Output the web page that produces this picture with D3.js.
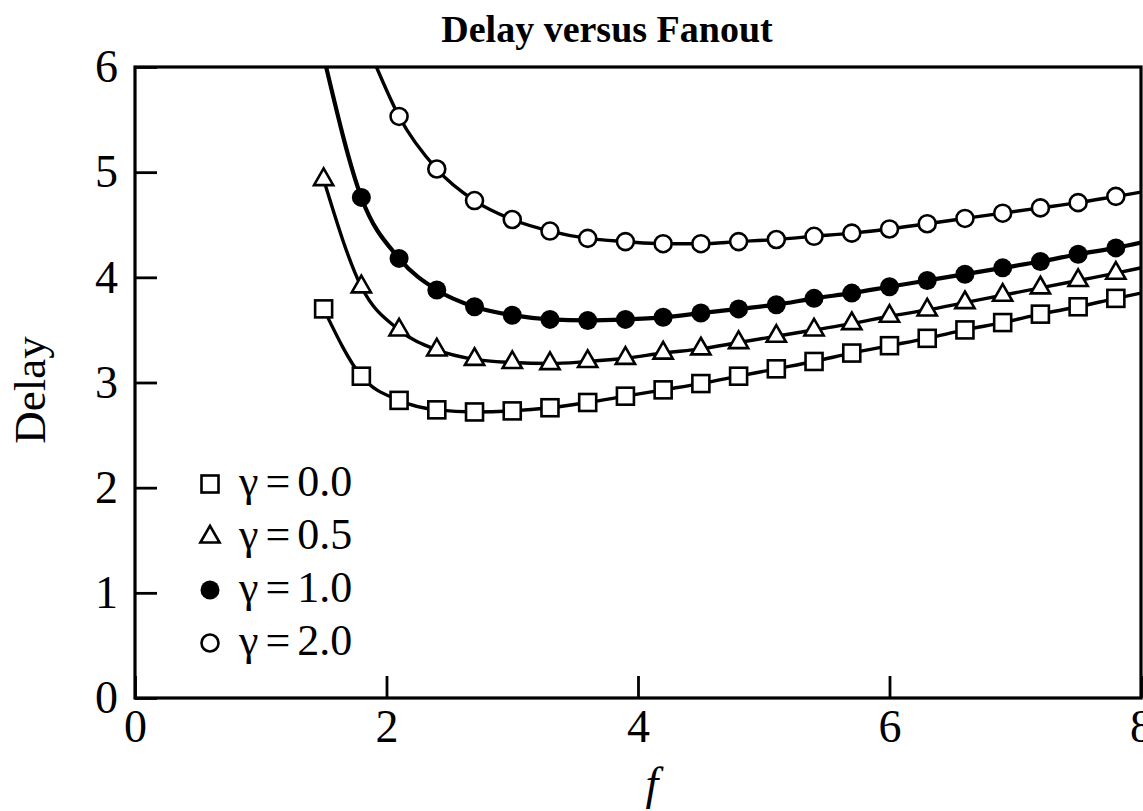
<!DOCTYPE html>
<html>
<head>
<meta charset="utf-8">
<script src="https://cdn.jsdelivr.net/npm/d3@7"></script>
<style>
  body { margin: 0; background: #fff; }
  svg text { font-family: "Liberation Serif", "Times New Roman", serif; fill: #000; }
</style>
</head>
<body>
<svg id="chart"></svg>
<script>
// fanout values where the markers sit
const fanout = [1.5, 1.8, 2.1, 2.4, 2.7, 3.0, 3.3, 3.6, 3.9, 4.2, 4.5, 4.8,
                5.1, 5.4, 5.7, 6.0, 6.3, 6.6, 6.9, 7.2, 7.5, 7.8];

// delay, one array per gamma (first marker index differs)
const delayG00 = [3.70, 3.06, 2.83, 2.74, 2.72, 2.73, 2.76, 2.81, 2.87, 2.93, 2.99,
                  3.06, 3.13, 3.20, 3.28, 3.35, 3.42, 3.50, 3.57, 3.65, 3.72, 3.80];
const delayG05 = [4.93, 3.91, 3.50, 3.31, 3.22, 3.19, 3.18, 3.20, 3.23, 3.28, 3.32,
                  3.38, 3.44, 3.50, 3.56, 3.63, 3.69, 3.76, 3.83, 3.90, 3.97, 4.04];
const delayG10 = [4.76, 4.18, 3.88, 3.72, 3.64, 3.60, 3.59, 3.60, 3.62, 3.66,
                  3.70, 3.74, 3.80, 3.85, 3.91, 3.97, 4.03, 4.09, 4.15, 4.22, 4.28];
const delayG20 = [5.53, 5.03, 4.73, 4.55, 4.44, 4.37, 4.34, 4.32, 4.32, 4.34,
                  4.36, 4.39, 4.42, 4.46, 4.51, 4.56, 4.61, 4.66, 4.71, 4.77];

// where each curve leaves the frame (top edge on the left, right edge at f = 8)
const curveStart = [null, null, [1.52, 6.0], [1.92, 6.0]];
const curveEnd = [[8, 3.85], [8, 4.09], [8, 4.33], [8, 4.81]];

const legendLabels = ["\u03b3 = 0.0", "\u03b3 = 0.5", "\u03b3 = 1.0", "\u03b3 = 2.0"];
const xTicks = [0, 2, 4, 6, 8];
const yTicks = [0, 1, 2, 3, 4, 5, 6];

const series = [
  {label: legendLabels[0], shape: "square", first: 0, values: delayG00, lw: 3.4},
  {label: legendLabels[1], shape: "triangle", first: 0, values: delayG05, lw: 3.4},
  {label: legendLabels[2], shape: "filled", first: 1, values: delayG10, lw: 4.2},
  {label: legendLabels[3], shape: "open", first: 2, values: delayG20, lw: 3.4}
];

let W = 1143, H = 811;
let margin = {top: 67, right: 2, bottom: 113, left: 135},
    width = W - margin.left - margin.right,
    height = H - margin.top - margin.bottom;

let x = d3.scaleLinear().domain([0, 8]).range([0, width]);
let y = d3.scaleLinear().domain([0, 6]).range([height, 0]);

let svg = d3.select("#chart").attr("width", W).attr("height", H);

svg.append("text")
    .attr("x", 607).attr("y", 42)
    .attr("text-anchor", "middle")
    .style("font-size", "38px").style("font-weight", "bold")
    .text("Delay versus Fanout");

let g = svg.append("g")
    .attr("transform", "translate(" + margin.left + "," + margin.top + ")");

g.append("clipPath").attr("id", "plotclip")
  .append("rect").attr("x", 0).attr("y", 0).attr("width", width).attr("height", height);

// axes with inward ticks
let yAxis = d3.axisLeft(y).tickValues(yTicks).tickFormat(d3.format("d"))
    .tickSizeInner(-22).tickSizeOuter(0).tickPadding(17);
let xAxis = d3.axisBottom(x).tickValues(xTicks).tickFormat(d3.format("d"))
    .tickSizeInner(-22).tickSizeOuter(0).tickPadding(11);

let ya = g.append("g").call(yAxis);
let xa = g.append("g").attr("transform", "translate(0," + height + ")").call(xAxis);
[ya, xa].forEach(a => {
  a.select(".domain").remove();
  a.selectAll(".tick line").attr("stroke", "#000").attr("stroke-width", 2.8);
  a.selectAll(".tick text").style("font-size", "46px").attr("font-family", null);
});

// frame
g.append("rect")
    .attr("x", 0).attr("y", 0).attr("width", width).attr("height", height)
    .attr("fill", "none").attr("stroke", "#000").attr("stroke-width", 3.2);

// axis titles
svg.append("text")
    .attr("transform", "translate(45," + 390 + ") rotate(-90)")
    .attr("text-anchor", "middle")
    .style("font-size", "45px")
    .text("Delay");
svg.append("text")
    .attr("x", 652).attr("y", 799)
    .attr("text-anchor", "middle")
    .style("font-size", "46px").style("font-style", "italic")
    .text("f");

let line = d3.line()
    .x(d => x(d[0])).y(d => y(d[1]))
    .curve(d3.curveMonotoneX);

function marker(sel, shape) {
  if (shape === "square") {
    sel.append("rect").attr("x", -8.5).attr("y", -8.5).attr("width", 17).attr("height", 17)
       .attr("fill", "#fff").attr("stroke", "#000").attr("stroke-width", 2.6);
  } else if (shape === "triangle") {
    sel.append("path").attr("d", d3.symbol(d3.symbolTriangle, 160)())
       .attr("fill", "#fff").attr("stroke", "#000").attr("stroke-width", 2.6);
  } else if (shape === "filled") {
    sel.append("circle").attr("r", 9.5).attr("fill", "#000");
  } else {
    sel.append("circle").attr("r", 8.5)
       .attr("fill", "#fff").attr("stroke", "#000").attr("stroke-width", 2.6);
  }
}

let plot = g.append("g").attr("clip-path", "url(#plotclip)");

series.forEach((s, i) => {
  let pts = s.values.map((v, j) => [fanout[s.first + j], v]);
  let path = pts.slice();
  if (curveStart[i]) path.unshift(curveStart[i]);
  path.push(curveEnd[i]);

  plot.append("path")
      .datum(path)
      .attr("d", line)
      .attr("fill", "none")
      .attr("stroke", "#000")
      .attr("stroke-width", s.lw);

  plot.selectAll(".m" + i)
      .data(pts)
      .enter().append("g")
      .attr("class", "m" + i)
      .attr("transform", d => "translate(" + x(d[0]) + "," + y(d[1]) + ")")
      .each(function() { marker(d3.select(this), s.shape); });
});

// legend
let legend = svg.append("g").attr("transform", "translate(210,484)");
series.forEach((s, i) => {
  let row = legend.append("g").attr("transform", "translate(0," + (i * 53) + ")");
  marker(row.append("g"), s.shape);
  row.append("text")
      .attr("x", 29).attr("y", 12)
      .style("font-size", "44px")
      .style("word-spacing", "-4px")
      .text(s.label);
});
</script>
</body>
</html>
